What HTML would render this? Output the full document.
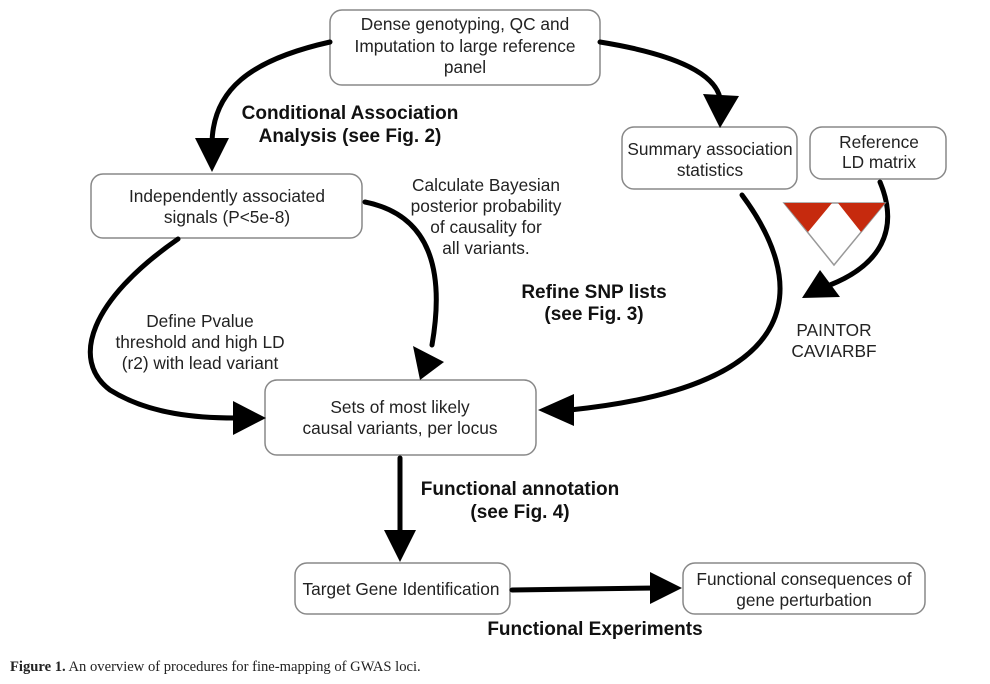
<!DOCTYPE html>
<html><head><meta charset="utf-8"><style>
html,body{margin:0;padding:0;background:#fff;}
svg{display:block;}
text{font-family:"Liberation Sans",sans-serif;fill:#222;}
.b{font-weight:bold;fill:#111;}
</style></head><body>
<svg width="990" height="684" viewBox="0 0 990 684" xmlns="http://www.w3.org/2000/svg">
<g fill="#fff" stroke="#888" stroke-width="1.5">
<rect x="330" y="10" width="270" height="75" rx="12"/>
<rect x="622" y="127" width="175" height="62" rx="12"/>
<rect x="810" y="127" width="136" height="52" rx="12"/>
<rect x="91" y="174" width="271" height="64" rx="12"/>
<rect x="265" y="380" width="271" height="75" rx="12"/>
<rect x="295" y="563" width="215" height="51" rx="12"/>
<rect x="683" y="563" width="242" height="51" rx="12"/>
</g>
<g fill="none" stroke="#000" stroke-width="5" stroke-linecap="round">
<path d="M330 42 C250 60 212 90 212 145"/>
<path d="M600 42 C680 55 715 75 720 98"/>
<path d="M742 195 C805 280 815 385 570 410"/>
<path d="M880 182 C900 230 880 265 830 285"/>
<path d="M178 239 C90 300 70 360 110 390 C150 415 200 418 235 418"/>
<path d="M365 202 C430 215 445 270 432 345"/>
<path d="M400 458 L400 535"/>
<path d="M512 590 L655 588"/>
</g>
<g fill="#000">
<polygon points="195,138 229,138 212,172"/>
<polygon points="703,94 739,96 720,128"/>
<polygon points="574,394 574,426 538,410"/>
<polygon points="820,270 840,297 802,298"/>
<polygon points="233,401 233,435 266,418"/>
<polygon points="413,346 444,362 420,380"/>
<polygon points="384,530 416,530 400,562"/>
<polygon points="650,572 650,604 682,588"/>
</g>
<polygon points="784,203 885,203 834,265" fill="#fff" stroke="#999" stroke-width="1.5"/>
<polygon points="784,203 832,203 808,232" fill="#c62a0e"/>
<polygon points="838,203 885,203 861,232" fill="#c62a0e"/>
<g font-size="17.3" text-anchor="middle">
<text x="465" y="30">Dense genotyping, QC and</text>
<text x="465" y="52">Imputation to large reference</text>
<text x="465" y="73">panel</text>
<text x="710" y="155">Summary association</text>
<text x="710" y="176">statistics</text>
<text x="879" y="148">Reference</text>
<text x="879" y="168">LD matrix</text>
<text x="227" y="202">Independently associated</text>
<text x="227" y="223">signals (P&lt;5e-8)</text>
<text x="400" y="413">Sets of most likely</text>
<text x="400" y="434">causal variants, per locus</text>
<text x="401" y="595">Target Gene Identification</text>
<text x="804" y="585">Functional consequences of</text>
<text x="804" y="606">gene perturbation</text>
<text x="486" y="191">Calculate Bayesian</text>
<text x="486" y="212">posterior probability</text>
<text x="486" y="233">of causality for</text>
<text x="486" y="254">all variants.</text>
<text x="200" y="327">Define Pvalue</text>
<text x="200" y="348">threshold and high LD</text>
<text x="200" y="369">(r2) with lead variant</text>
<text x="834" y="336">PAINTOR</text>
<text x="834" y="357">CAVIARBF</text>
</g>
<g font-size="19" text-anchor="middle" class="b">
<text class="b" x="350" y="119">Conditional Association</text>
<text class="b" x="350" y="142">Analysis (see Fig. 2)</text>
<text class="b" x="594" y="298">Refine SNP lists</text>
<text class="b" x="594" y="320">(see Fig. 3)</text>
<text class="b" x="520" y="495">Functional annotation</text>
<text class="b" x="520" y="518">(see Fig. 4)</text>
<text class="b" x="595" y="635">Functional Experiments</text>
</g>
<text x="10" y="671" font-size="14.6" style="font-family:'Liberation Serif',serif"><tspan font-weight="bold">Figure 1.</tspan> An overview of procedures for fine-mapping of GWAS loci.</text>
</svg>
</body></html>
